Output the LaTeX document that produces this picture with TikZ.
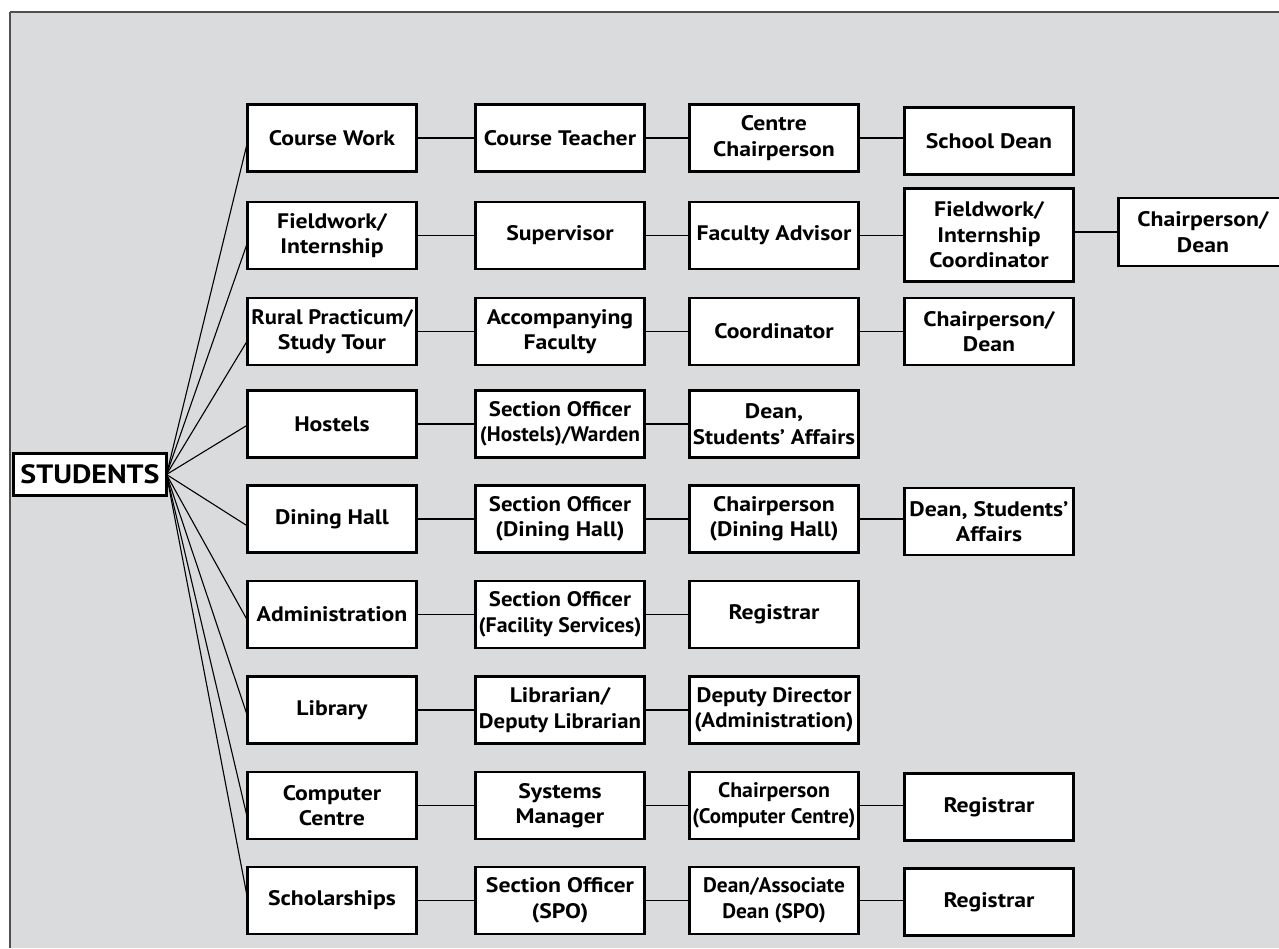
\documentclass[tikz,border=0pt]{standalone}
\usepackage{fontspec}
\usepackage{graphicx}
\setmainfont{PT Sans}[FakeStretch=1.13]
\definecolor{panel}{RGB}{218,219,221}
\definecolor{frameline}{RGB}{80,80,80}
\newcommand{\cnd}[2][0.96]{\scalebox{#1}[1]{#2}}
\begin{document}
\begin{tikzpicture}[x=1pt,y=-1pt,
  box/.style={draw, line width=2.6pt, fill=white, minimum width=169pt,
    minimum height=67pt, inner sep=0pt, outer sep=0pt, align=center,
    font=\fontsize{21}{25.5}\selectfont\bfseries},
  tallbox/.style={box, minimum height=93pt},
  rootbox/.style={box, minimum width=153pt, minimum height=42.5pt,
    font=\fontsize{26.5}{30}\selectfont\bfseries},
  link/.style={line width=1.2pt},
  fan/.style={line width=1.1pt}]
\useasboundingbox (0,0) rectangle (1279,948);
\fill[panel] (10,12) rectangle (1279,948);
\draw[frameline, line width=2.2pt] (10,12) -- (1279,12);
\draw[frameline, line width=1.2pt] (10,12) -- (10,948);

% root
\node[rootbox] (st) at (90,474.5) {STUDENTS};

% row 1
\node[box] (a1) at (332,138) {Course Work};
\node[box] (a2) at (560,138) {Course Teacher};
\node[box] (a3) at (774,138) {Centre\\Chairperson};
\node[box] (a4) at (989,141) {School Dean};
% row 2
\node[box] (b1) at (332,235.5) {Fieldwork/\\Internship};
\node[box] (b2) at (560,235.5) {Supervisor};
\node[box] (b3) at (774,235.5) {Faculty Advisor};
\node[tallbox] (b4) at (989,235) {Fieldwork/\\Internship\\Coordinator};
\node[box, minimum height=68pt] (b5) at (1203,232) {Chairperson/\\Dean};
% row 3
\node[box] (c1) at (332,331.5) {\cnd[0.95]{Rural Practicum/}\\Study Tour};
\node[box] (c2) at (560,331.5) {Accompanying\\Faculty};
\node[box] (c3) at (774,331.5) {Coordinator};
\node[box] (c4) at (989,331.5) {Chairperson/\\Dean};
% row 4
\node[box] (d1) at (332,424) {Hostels};
\node[box] (d2) at (560,424) {\cnd{Section Officer}\\\cnd[0.9]{(Hostels)/Warden}};
\node[box] (d3) at (774,424) {Dean,\\\cnd[0.97]{Students’ Affairs}};
% row 5
\node[box] (e1) at (332,519) {Dining Hall};
\node[box] (e2) at (560,519) {\cnd{Section Officer}\\(Dining Hall)};
\node[box] (e3) at (774,519) {Chairperson\\(Dining Hall)};
\node[box] (e4) at (989,521.5) {Dean, Students’\\Affairs};
% row 6
\node[box] (f1) at (332,614.5) {Administration};
\node[box] (f2) at (560,614.5) {\cnd{Section Officer}\\\cnd[0.92]{(Facility Services)}};
\node[box] (f3) at (774,614.5) {Registrar};
% row 7
\node[box] (g1) at (332,710) {Library};
\node[box] (g2) at (560,710) {Librarian/\\\cnd[0.96]{Deputy Librarian}};
\node[box] (g3) at (774,710) {\cnd[0.97]{Deputy Director}\\\cnd[0.96]{(Administration)}};
% row 8
\node[box] (h1) at (332,805.5) {Computer\\Centre};
\node[box] (h2) at (560,805.5) {Systems\\Manager};
\node[box] (h3) at (774,805.5) {\cnd[0.92]{Chairperson}\\\cnd[0.88]{(Computer Centre)}};
\node[box] (h4) at (989,807) {Registrar};
% row 9
\node[box] (i1) at (332,900.5) {Scholarships};
\node[box] (i2) at (560,900.5) {Section Officer\\(SPO)};
\node[box] (i3) at (774,900.5) {\cnd[0.9]{Dean/Associate}\\\cnd[0.9]{Dean (SPO)}};
\node[box] (i4) at (989,902) {Registrar};

% fan from the root to the first column
\draw[fan] (st.east) -- ([yshift=-4pt]a1.west);
\draw[fan] (st.east) -- ([yshift=-7pt]b1.west);
\draw[fan] (st.east) -- ([yshift=-9pt]c1.west);
\draw[fan] (st.east) -- ([yshift=-1pt]d1.west);
\draw[fan] (st.east) -- ([yshift=-7pt]e1.west);
\draw[fan] (st.east) -- ([yshift=-6pt]f1.west);
\draw[fan] (st.east) -- ([yshift=-6pt]g1.west);
\draw[fan] (st.east) -- ([yshift=-13pt]h1.west);
\draw[fan] (st.east) -- ([yshift=2pt]i1.west);

% chains along each row
\draw[link] (a1.east) -- (a2.west);
\draw[link] (a2.east) -- (a3.west);
\draw[link] (a3.east) -- (a3.east -| a4.west);
\draw[link] (b1.east) -- (b2.west);
\draw[link] (b2.east) -- (b3.west);
\draw[link] (b3.east) -- (b3.east -| b4.west);
\draw[link] (b5.west -| b4.east) -- (b5.west);
\draw[link] (c1.east) -- (c2.west);
\draw[link] (c2.east) -- (c3.west);
\draw[link] (c3.east) -- (c4.west);
\draw[link] (d1.east) -- (d2.west);
\draw[link] (d2.east) -- (d3.west);
\draw[link] (e1.east) -- (e2.west);
\draw[link] (e2.east) -- (e3.west);
\draw[link] (e3.east) -- (e3.east -| e4.west);
\draw[link] (f1.east) -- (f2.west);
\draw[link] (f2.east) -- (f3.west);
\draw[link] (g1.east) -- (g2.west);
\draw[link] (g2.east) -- (g3.west);
\draw[link] (h1.east) -- (h2.west);
\draw[link] (h2.east) -- (h3.west);
\draw[link] (h3.east) -- (h3.east -| h4.west);
\draw[link] (i1.east) -- (i2.west);
\draw[link] (i2.east) -- (i3.west);
\draw[link] (i3.east) -- (i3.east -| i4.west);
\end{tikzpicture}
\end{document}
